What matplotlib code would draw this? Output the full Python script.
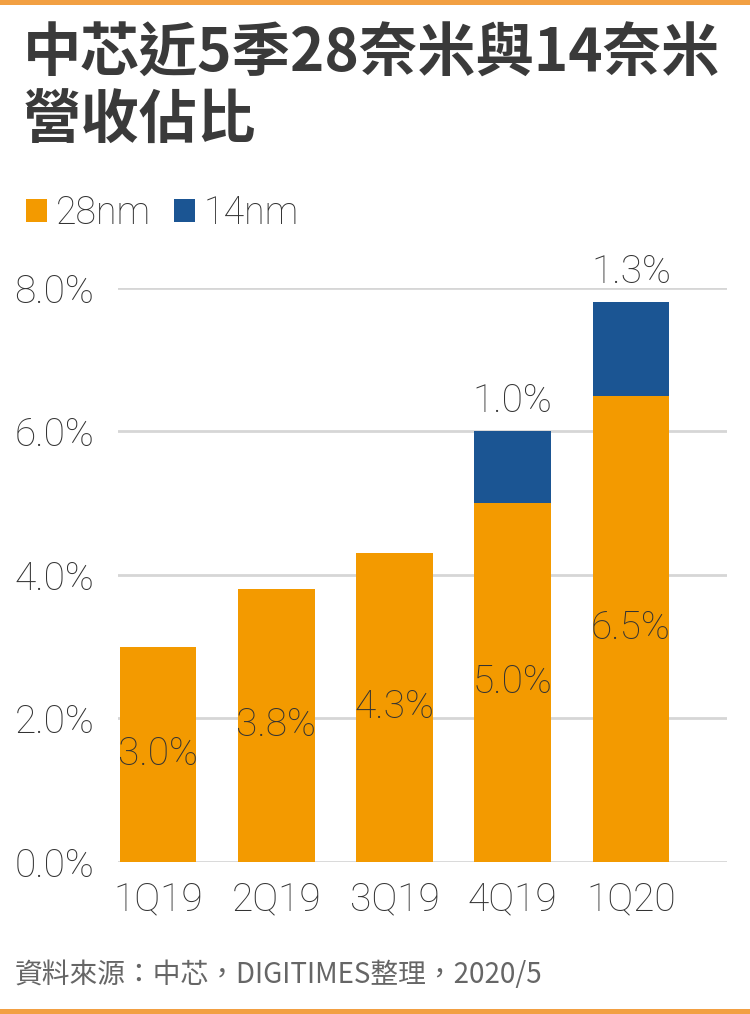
import numpy as np
import matplotlib.pyplot as plt
from matplotlib.patches import Rectangle

# data
quarters = ['1Q19', '2Q19', '3Q19', '4Q19', '1Q20']
share_28nm = [3.0, 3.8, 4.3, 5.0, 6.5]
share_14nm = [0.0, 0.0, 0.0, 1.0, 1.3]
yticks = [0, 2, 4, 6, 8]

orange = '#F39A00'
blue = '#1B5593'
grey_text = '#333333'
num_font = ['Roboto', 'DejaVu Sans']
cjk_font = ['Noto Sans CJK TC', 'DejaVu Sans']

fig = plt.figure(figsize=(7.5, 10.14), dpi=100)
ax = fig.add_axes([0.157, 0.150, 0.812, 0.566])

x = np.arange(len(quarters))
b1 = ax.bar(x, share_28nm, width=0.65, color=orange, zorder=3, label='28nm')
b2 = ax.bar(x, share_14nm, width=0.65, bottom=share_28nm, color=blue, zorder=3, label='14nm')

# labels in the middle of the 28nm bars
for xi, v in zip(x, share_28nm):
    ax.text(xi, v / 2, f'{v:.1f}%', ha='center', va='center', fontsize=28,
            family=num_font, fontweight='light', color=grey_text, zorder=4)
# 14nm labels above the stacks
for xi, v, base in zip(x, share_14nm, share_28nm):
    if v > 0:
        ax.text(xi, base + v + 0.42, f'{v:.1f}%', ha='center', va='center', fontsize=28,
                family=num_font, fontweight='light', color=grey_text, clip_on=False)

ax.set_xlim(-0.34, 4.81)
ax.set_ylim(0, 8)
ax.set_yticks(yticks)
ax.set_yticklabels([f'{t:.1f}%' for t in yticks])
ax.set_xticks(x)
ax.set_xticklabels(quarters)
for lab in ax.get_xticklabels() + ax.get_yticklabels():
    lab.set_family(num_font)
    lab.set_fontweight('light')
    lab.set_fontsize(28)
    lab.set_color(grey_text)
ax.tick_params(axis='both', length=0)
ax.tick_params(axis='y', pad=17)
ax.tick_params(axis='x', pad=14)
ax.grid(axis='y', color='#d6d6d6', linewidth=2, zorder=0)
for s in ax.spines.values():
    s.set_visible(False)

# legend
fig.legend(handles=[b1, b2], labels=['28nm', '14nm'], loc='center left',
           bbox_to_anchor=(0.035, 0.79), ncol=2, frameon=False, borderpad=0,
           borderaxespad=0,
           prop={'family': num_font, 'weight': 'light', 'size': 27},
           handlelength=0.55, handleheight=0.55, handletextpad=0.25, columnspacing=0.6,
           labelcolor=grey_text)

# title and source
fig.text(0.03, 0.946, '中芯近5季28奈米與14奈米', ha='left', va='center', fontsize=42,
         family=cjk_font, fontweight='bold', color='#3a3a3a')
fig.text(0.03, 0.880, '營收佔比', ha='left', va='center', fontsize=42,
         family=cjk_font, fontweight='bold', color='#3a3a3a')
fig.text(0.02, 0.038, '資料來源：中芯，DIGITIMES整理，2020/5', ha='left', va='center',
         fontsize=20, family=cjk_font, fontweight='normal', color='#666666')

# orange bands at top and bottom
fig.add_artist(Rectangle((0, 0.995), 1, 0.005, transform=fig.transFigure, color='#F2A043', lw=0))
fig.add_artist(Rectangle((0, 0), 1, 0.005, transform=fig.transFigure, color='#F2A043', lw=0))

fig.savefig('out.png', dpi=100, facecolor='white')
